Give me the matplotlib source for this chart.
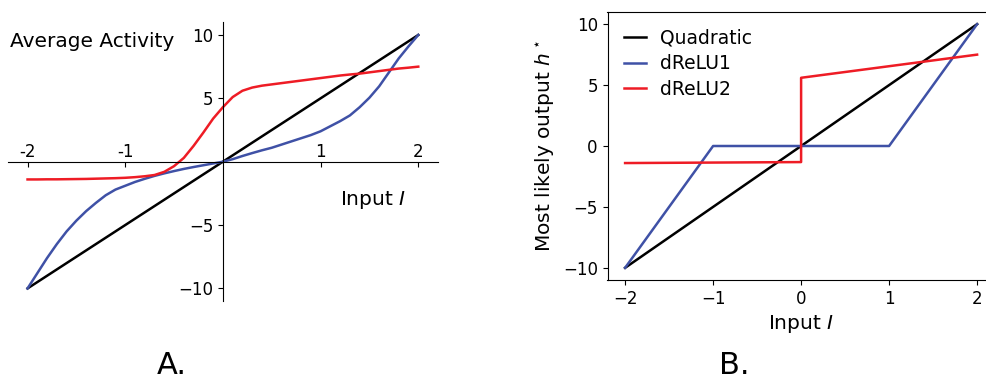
import numpy as np
import matplotlib
matplotlib.use("Agg")
import matplotlib.pyplot as plt

# ---------------- data ----------------
# Panel A: average activity vs input
x_avg = [-2.0, -1.9, -1.8, -1.7, -1.6, -1.5, -1.4, -1.3, -1.2, -1.1, -1.0,
         -0.9, -0.8, -0.7, -0.6, -0.5, -0.4, -0.3, -0.2, -0.1, 0.0,
         0.1, 0.2, 0.3, 0.4, 0.5, 0.6, 0.7, 0.8, 0.9, 1.0,
         1.1, 1.2, 1.3, 1.4, 1.5, 1.6, 1.7, 1.8, 1.9, 2.0]
avg_quadratic = [-10.0, -9.5, -9.0, -8.5, -8.0, -7.5, -7.0, -6.5, -6.0, -5.5, -5.0,
                 -4.5, -4.0, -3.5, -3.0, -2.5, -2.0, -1.5, -1.0, -0.5, 0.0,
                 0.5, 1.0, 1.5, 2.0, 2.5, 3.0, 3.5, 4.0, 4.5, 5.0,
                 5.5, 6.0, 6.5, 7.0, 7.5, 8.0, 8.5, 9.0, 9.5, 10.0]
avg_drelu1 = [-10.0, -8.8, -7.6, -6.5, -5.5, -4.65, -3.9, -3.25, -2.65, -2.2, -1.9,
              -1.6, -1.35, -1.12, -0.92, -0.74, -0.57, -0.42, -0.28, -0.14, 0.0,
              0.2, 0.45, 0.68, 0.9, 1.1, 1.35, 1.6, 1.85, 2.1, 2.4,
              2.8, 3.2, 3.65, 4.3, 5.05, 5.95, 7.05, 8.15, 9.1, 10.0]
avg_drelu2 = [-1.40, -1.40, -1.39, -1.39, -1.38, -1.37, -1.36, -1.34, -1.32, -1.30, -1.27,
              -1.22, -1.15, -1.05, -0.80, -0.35, 0.30, 1.25, 2.30, 3.40, 4.30,
              5.10, 5.60, 5.85, 6.00, 6.10, 6.20, 6.30, 6.40, 6.50, 6.60,
              6.70, 6.80, 6.88, 6.95, 7.05, 7.15, 7.25, 7.35, 7.42, 7.50]

# Panel B: most likely output vs input
x_quad = [-2.0, 2.0]
h_quad = [-10.0, 10.0]
x_d1 = [-2.0, -1.0, 1.0, 2.0]
h_d1 = [-10.0, 0.0, 0.0, 10.0]
x_d2 = [-2.0, 0.0, 0.0, 2.0]
h_d2 = [-1.40, -1.32, 5.6, 7.5]

labels = ["Quadratic", "dReLU1", "dReLU2"]
xticks_a = [-2, -1, 1, 2]
xticklabels_a = ["-2", "-1", "1", "2"]
yticks_a = [-10, -5, 5, 10]
xticks_b = [-2, -1, 0, 1, 2]
yticks_b = [-10, -5, 0, 5, 10]

C_BLACK = "#000000"
C_BLUE = "#3F51A6"
C_RED = "#EE1C25"
LW = 1.8

fig = plt.figure(figsize=(9.86, 3.81), dpi=100)

# ---------------- Panel A ----------------
axA = fig.add_axes([8 / 986, (381 - 301.1) / 381, 429.8 / 986, 278.8 / 381])
axA.plot(x_avg, avg_quadratic, color=C_BLACK, lw=LW)
axA.plot(x_avg, avg_drelu1, color=C_BLUE, lw=LW)
axA.plot(x_avg, avg_drelu2, color=C_RED, lw=LW)
axA.set_xlim(-2.2, 2.2)
axA.set_ylim(-11, 11)
axA.spines["left"].set_position(("data", 0))
axA.spines["bottom"].set_position(("data", 0))
axA.spines["top"].set_visible(False)
axA.spines["right"].set_visible(False)
axA.set_xticks(xticks_a)
axA.set_xticklabels(xticklabels_a)
axA.set_yticks(yticks_a)
axA.tick_params(axis="x", direction="out", pad=-17.3, labelsize=12)
axA.tick_params(axis="y", direction="out", labelsize=12)
axA.text(-2.18, 9.05, "Average Activity", fontsize=14.5, ha="left", va="baseline")
axA.text(1.2, -3.42, "Input $I$", fontsize=14.5, ha="left", va="baseline")

# ---------------- Panel B ----------------
axB = fig.add_axes([607.5 / 986, (381 - 280) / 381, 387.2 / 986, 268 / 381])
axB.plot(x_quad, h_quad, color=C_BLACK, lw=LW, label=labels[0])
axB.plot(x_d1, h_d1, color=C_BLUE, lw=LW, label=labels[1])
axB.plot(x_d2, h_d2, color=C_RED, lw=LW, label=labels[2])
axB.set_xlim(-2.2, 2.2)
axB.set_ylim(-11, 11)
axB.set_xticks(xticks_b)
axB.set_yticks(yticks_b)
axB.tick_params(labelsize=12)
axB.set_xlabel("Input $I$", fontsize=14.5)
axB.set_ylabel("Most likely output $h^\\star$", fontsize=14.5)
axB.legend(loc="upper left", frameon=False, fontsize=13.5,
           handlelength=1.15, handletextpad=0.75, labelspacing=0.35)

fig.text(172 / 986, 1 / 381, "A.", fontsize=22, ha="center", va="bottom")
fig.text(734 / 986, 1 / 381, "B.", fontsize=22, ha="center", va="bottom")

fig.savefig("out.png", dpi=100)
